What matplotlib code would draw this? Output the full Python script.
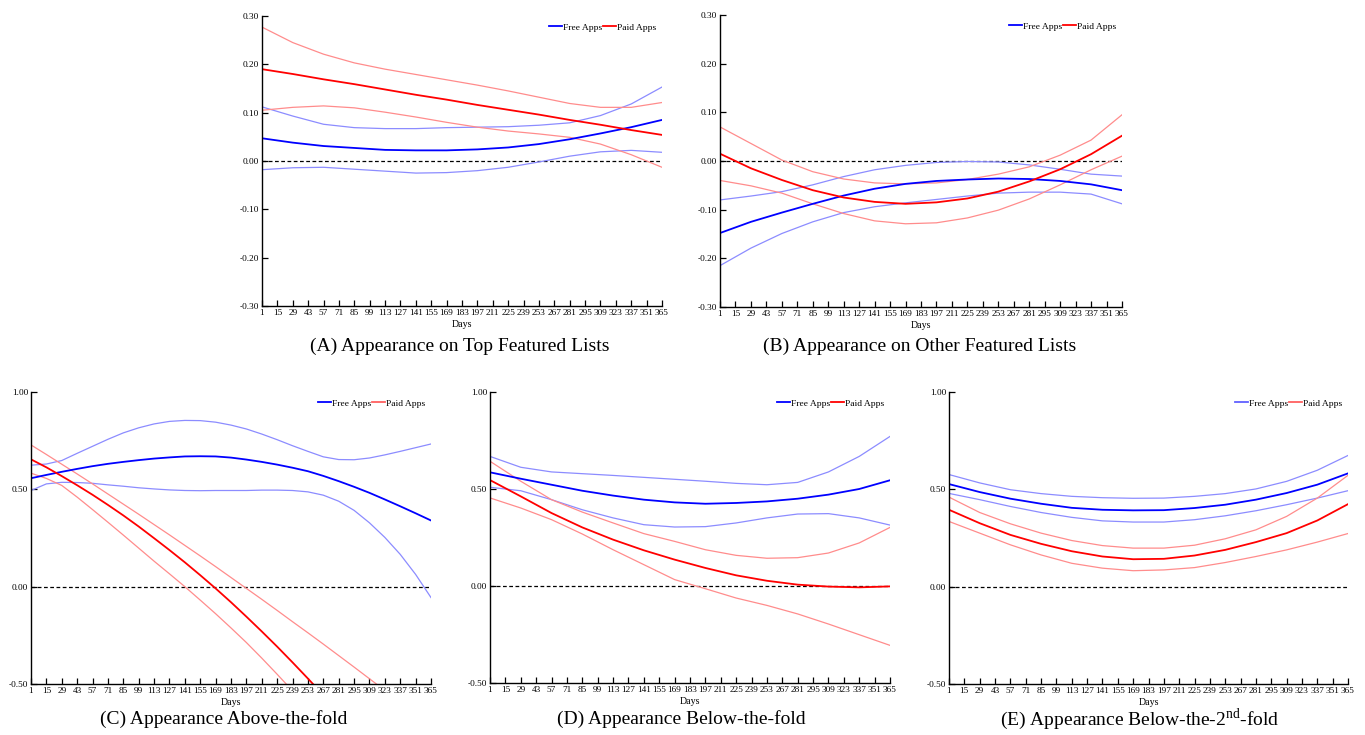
import numpy as np
import matplotlib
matplotlib.use("Agg")
import matplotlib.pyplot as plt
from matplotlib.ticker import FormatStrFormatter

plt.rcParams['font.family'] = ['Liberation Serif', 'DejaVu Serif']
plt.rcParams['axes.unicode_minus'] = False
plt.rcParams['mathtext.fontset'] = 'custom'
plt.rcParams['mathtext.rm'] = 'Liberation Serif'

days = [1, 29, 57, 85, 113, 141, 169, 197, 225, 253, 281, 309, 337, 365]
days_c = list(range(1, 366, 14))
xticks = list(range(1, 366, 14))

# (A) Top featured lists
a_free_mean = [0.047, 0.038, 0.031, 0.027, 0.023, 0.022, 0.022, 0.024, 0.028, 0.035, 0.045, 0.057, 0.070, 0.085]
a_free_hi = [0.112, 0.093, 0.076, 0.069, 0.067, 0.067, 0.069, 0.070, 0.071, 0.074, 0.079, 0.094, 0.118, 0.153]
a_free_lo = [-0.018, -0.014, -0.013, -0.017, -0.021, -0.025, -0.024, -0.020, -0.013, -0.002, 0.010, 0.019, 0.022, 0.018]
a_paid_mean = [0.190, 0.180, 0.169, 0.159, 0.148, 0.137, 0.127, 0.116, 0.106, 0.096, 0.085, 0.075, 0.064, 0.054]
a_paid_hi = [0.277, 0.245, 0.221, 0.203, 0.190, 0.179, 0.168, 0.157, 0.145, 0.132, 0.119, 0.111, 0.111, 0.121]
a_paid_lo = [0.105, 0.111, 0.114, 0.110, 0.101, 0.091, 0.080, 0.070, 0.062, 0.056, 0.049, 0.035, 0.013, -0.013]

# (B) Other featured lists
b_free_mean = [-0.148, -0.125, -0.106, -0.088, -0.071, -0.057, -0.047, -0.041, -0.038, -0.036, -0.037, -0.041, -0.048, -0.060]
b_free_hi = [-0.080, -0.072, -0.063, -0.049, -0.032, -0.018, -0.009, -0.003, -0.001, -0.002, -0.008, -0.017, -0.027, -0.031]
b_free_lo = [-0.215, -0.179, -0.149, -0.125, -0.106, -0.094, -0.086, -0.079, -0.072, -0.066, -0.064, -0.064, -0.068, -0.088]
b_paid_mean = [0.015, -0.015, -0.039, -0.060, -0.075, -0.084, -0.088, -0.085, -0.077, -0.063, -0.042, -0.017, 0.014, 0.052]
b_paid_hi = [0.070, 0.036, 0.002, -0.022, -0.037, -0.045, -0.047, -0.045, -0.038, -0.027, -0.012, 0.012, 0.043, 0.095]
b_paid_lo = [-0.040, -0.051, -0.066, -0.088, -0.108, -0.123, -0.129, -0.127, -0.117, -0.101, -0.078, -0.049, -0.018, 0.010]

# (C) Above-the-fold (read every 14 days)
c_free_mean = [0.557, 0.574, 0.590, 0.605, 0.619, 0.631, 0.641, 0.650, 0.658, 0.664, 0.669, 0.670, 0.669, 0.663,
               0.653, 0.641, 0.627, 0.611, 0.593, 0.569, 0.542, 0.513, 0.482, 0.448, 0.413, 0.377, 0.340]
c_free_hi = [0.624, 0.630, 0.648, 0.685, 0.721, 0.757, 0.790, 0.816, 0.836, 0.849, 0.854, 0.853, 0.845, 0.830,
             0.810, 0.784, 0.755, 0.724, 0.695, 0.667, 0.653, 0.652, 0.661, 0.677, 0.695, 0.714, 0.733]
c_free_lo = [0.494, 0.528, 0.536, 0.535, 0.531, 0.523, 0.516, 0.508, 0.502, 0.497, 0.494, 0.493, 0.494, 0.494,
             0.494, 0.496, 0.496, 0.494, 0.487, 0.470, 0.439, 0.392, 0.328, 0.253, 0.166, 0.063, -0.056]
c_paid_mean = [0.654, 0.613, 0.568, 0.521, 0.472, 0.420, 0.366, 0.309, 0.249, 0.188, 0.125, 0.059, -0.009, -0.080,
               -0.154, -0.230, -0.308, -0.389, -0.472, -0.557, -0.645, -0.735, -0.830, -0.925, -1.020, -1.120, -1.220]
c_paid_hi = [0.728, 0.679, 0.629, 0.579, 0.528, 0.476, 0.424, 0.372, 0.319, 0.266, 0.212, 0.158, 0.103, 0.047,
             -0.009, -0.065, -0.122, -0.180, -0.237, -0.295, -0.354, -0.413, -0.473, -0.533, -0.594, -0.657, -0.720]
c_paid_lo = [0.583, 0.556, 0.520, 0.460, 0.396, 0.331, 0.265, 0.198, 0.131, 0.066, 0.000, -0.069, -0.139, -0.212,
             -0.287, -0.367, -0.450, -0.535, -0.620, -0.710, -0.800, -0.900, -1.000, -1.100, -1.200, -1.300, -1.400]

# (D) Below-the-fold
d_free_mean = [0.586, 0.553, 0.522, 0.491, 0.466, 0.445, 0.431, 0.424, 0.428, 0.436, 0.450, 0.471, 0.500, 0.545]
d_free_hi = [0.668, 0.612, 0.588, 0.579, 0.570, 0.560, 0.550, 0.540, 0.529, 0.522, 0.534, 0.588, 0.668, 0.771]
d_free_lo = [0.509, 0.491, 0.445, 0.393, 0.351, 0.316, 0.304, 0.306, 0.325, 0.351, 0.371, 0.373, 0.351, 0.314]
d_paid_mean = [0.546, 0.462, 0.376, 0.302, 0.239, 0.184, 0.136, 0.093, 0.055, 0.027, 0.007, -0.003, -0.007, -0.002]
d_paid_hi = [0.643, 0.540, 0.445, 0.381, 0.325, 0.270, 0.230, 0.187, 0.158, 0.143, 0.146, 0.170, 0.222, 0.302]
d_paid_lo = [0.454, 0.402, 0.342, 0.268, 0.187, 0.110, 0.033, -0.014, -0.062, -0.100, -0.144, -0.196, -0.251, -0.306]

# (E) Below-the-2nd-fold
e_free_mean = [0.527, 0.486, 0.452, 0.426, 0.405, 0.395, 0.392, 0.393, 0.404, 0.421, 0.447, 0.481, 0.524, 0.582]
e_free_hi = [0.576, 0.533, 0.498, 0.478, 0.464, 0.457, 0.454, 0.455, 0.464, 0.478, 0.502, 0.541, 0.598, 0.674]
e_free_lo = [0.479, 0.447, 0.412, 0.381, 0.356, 0.338, 0.332, 0.332, 0.344, 0.364, 0.390, 0.421, 0.455, 0.493]
e_paid_mean = [0.395, 0.326, 0.266, 0.220, 0.182, 0.155, 0.141, 0.143, 0.160, 0.189, 0.229, 0.275, 0.340, 0.424]
e_paid_hi = [0.460, 0.381, 0.323, 0.275, 0.237, 0.211, 0.198, 0.198, 0.213, 0.246, 0.292, 0.361, 0.455, 0.572]
e_paid_lo = [0.335, 0.275, 0.215, 0.163, 0.120, 0.095, 0.082, 0.086, 0.098, 0.124, 0.155, 0.189, 0.229, 0.273]

BLUE, LBLUE = '#0000ff', '#8c8cff'
RED, LRED = '#ff0000', '#ff8c8c'

W, H = 1365, 735
fig = plt.figure(figsize=(W / 100, H / 100), dpi=100)


def px_axes(left, right, top, bottom):
    return fig.add_axes([left / W, 1 - bottom / H, (right - left) / W, (bottom - top) / H])


def panel(ax, x, free, paid, ylim, yticks, caption, cap_x, cap_y, leg_cols):
    fm, fh, fl = free
    pm, ph, pl = paid
    ax.axhline(0, color='black', lw=0.9, ls=(0, (3, 2)), zorder=1)
    ax.plot(x, fh, color=LBLUE, lw=0.9)
    ax.plot(x, fl, color=LBLUE, lw=0.9)
    ax.plot(x, ph, color=LRED, lw=0.9)
    ax.plot(x, pl, color=LRED, lw=0.9)
    ax.plot(x, fm, color=BLUE, lw=1.3)
    ax.plot(x, pm, color=RED, lw=1.3)
    ax.set_xlim(1, 365)
    ax.set_ylim(*ylim)
    ax.set_xticks(xticks)
    ax.set_yticks(yticks)
    ax.yaxis.set_major_formatter(FormatStrFormatter('%.2f'))
    ax.tick_params(direction='in', length=4, width=0.9, labelsize=6.7, pad=2)
    for s in ('top', 'right'):
        ax.spines[s].set_visible(False)
    for s in ('left', 'bottom'):
        ax.spines[s].set_linewidth(1.0)
    ax.set_xlabel('Days', fontsize=7.2, labelpad=2)
    h1, = ax.plot([], [], color=leg_cols[0], lw=1.3)
    h2, = ax.plot([], [], color=leg_cols[1], lw=1.3)
    ax.legend([h1, h2], ['Free Apps', 'Paid Apps'], ncol=2, frameon=False,
              loc='upper right', bbox_to_anchor=(1.0, 0.995), fontsize=6.8,
              handlelength=1.4, handletextpad=0.1, columnspacing=0.1,
              borderaxespad=0.2)
    fig.text(cap_x / W, 1 - cap_y / H, caption, ha='center', va='center', fontsize=14)


ax_a = px_axes(262, 662, 16, 306)
panel(ax_a, days, (a_free_mean, a_free_hi, a_free_lo), (a_paid_mean, a_paid_hi, a_paid_lo),
      (-0.3, 0.3), np.arange(-0.3, 0.31, 0.1),
      '(A) Appearance on Top Featured Lists', 460, 346, (BLUE, RED))

ax_b = px_axes(720, 1122, 15, 307)
panel(ax_b, days, (b_free_mean, b_free_hi, b_free_lo), (b_paid_mean, b_paid_hi, b_paid_lo),
      (-0.3, 0.3), np.arange(-0.3, 0.31, 0.1),
      '(B) Appearance on Other Featured Lists', 920, 346, (BLUE, RED))

ax_c = px_axes(31, 431, 392, 684)
panel(ax_c, days_c, (c_free_mean, c_free_hi, c_free_lo), (c_paid_mean, c_paid_hi, c_paid_lo),
      (-0.5, 1.0), [-0.5, 0.0, 0.5, 1.0],
      '(C) Appearance Above-the-fold', 224, 719, (BLUE, '#ff6060'))

ax_d = px_axes(490, 890, 392, 683)
panel(ax_d, days, (d_free_mean, d_free_hi, d_free_lo), (d_paid_mean, d_paid_hi, d_paid_lo),
      (-0.5, 1.0), [-0.5, 0.0, 0.5, 1.0],
      '(D) Appearance Below-the-fold', 681, 719, (BLUE, RED))

ax_e = px_axes(949, 1348, 392, 684)
panel(ax_e, days, (e_free_mean, e_free_hi, e_free_lo), (e_paid_mean, e_paid_hi, e_paid_lo),
      (-0.5, 1.0), [-0.5, 0.0, 0.5, 1.0],
      '(E) Appearance Below-the-2$^{\\mathrm{nd}}$-fold', 1140, 719, ('#6060ff', '#ff6060'))

fig.savefig('out.png', dpi=100)
